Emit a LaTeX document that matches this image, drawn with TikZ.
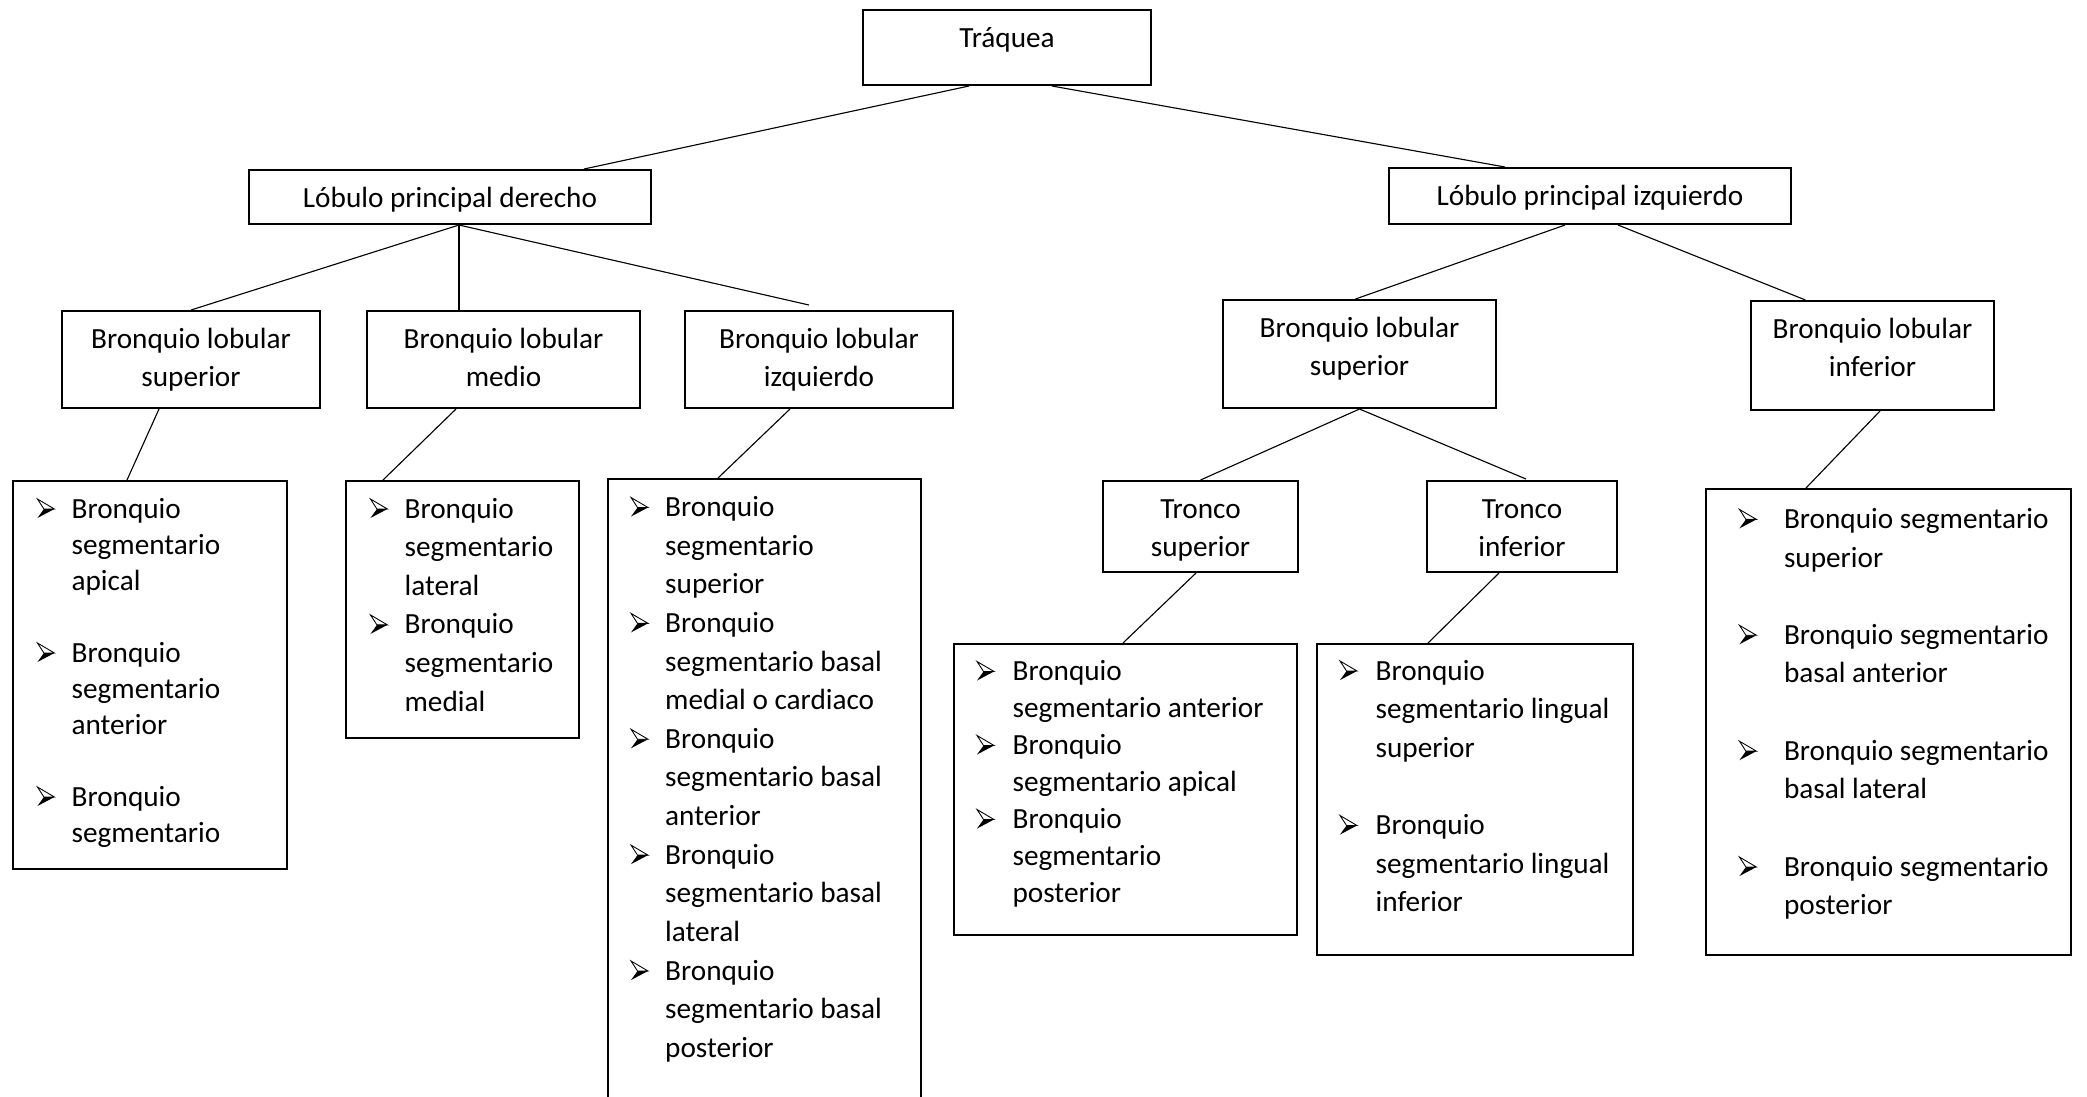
\documentclass[tikz,border=0pt]{standalone}
\usepackage{fontspec}
\setmainfont{Carlito}
\usetikzlibrary{calc,positioning}

\newlength\upx
\setlength\upx{0.4pt}
\newlength\sangria

\tikzset{
  caja/.style={
    rectangle,
    draw=black, line width=0.8pt,
    inner sep=0pt,
    anchor=north west,
    font=\fontsize{11.7}{15.45}\selectfont},
  rama/.style={draw, line width=0.45pt},
}
% punta de flecha, mitad de abajo negra
\def\flecha{\tikz[baseline=0pt, x=1pt, y=1pt, line width=0.35pt]{%
    \draw (0,7.6) -- (6.8,3.6) -- (2.6,3.6) -- cycle;
    \fill (2.6,3.6) -- (6.8,3.6) -- (0,0) -- cycle;}}
\def\hueco{\vspace{\baselineskip}}
% etiqueta: ancho, alto, texto
\newcommand{\etiq}[3]{\parbox[t][#2\upx][t]{#1\upx}{\centering\rule{0pt}{14.8pt}#3}}
% lista: ancho, alto, margen, sangria, primera linea, puntos
\newcommand{\lista}[6]{\hspace*{#3\upx}\parbox[t][#2\upx][t]{\dimexpr#1\upx-#3\upx\relax}{%
    \setlength\sangria{#4\upx}\rule{0pt}{#5\upx}#6}}
\newcommand{\punto}[1]{\hangindent=\sangria\hangafter=1\noindent\makebox[\sangria][l]{\flecha}#1\par}

\begin{document}
\begin{tikzpicture}[x=0.4pt, y=-0.4pt]
    \clip (0,0) rectangle (2087,1096);

    \node[caja] (traq) at (862,9) {\etiq{288}{75}{Tráquea}};
    \node[caja] (lobder) at (248,169) {\etiq{402}{54}{Lóbulo principal derecho}};
    \node[caja] (lobizq) at (1388,167) {\etiq{402}{56}{Lóbulo principal izquierdo}};

    %% bronquios lobulares
    \node[caja] (blsR) at (61,310) {\etiq{258}{97}{Bronquio lobular\\superior}};
    \node[caja] (blm) at (366,310) {\etiq{273}{97}{Bronquio lobular\\medio}};
    \node[caja] (bli) at (684,310) {\etiq{268}{97}{Bronquio lobular\\izquierdo}};
    \node[caja] (blsL) at (1222,299) {\etiq{273}{108}{Bronquio lobular\\superior}};
    \node[caja] (blinf) at (1750,300) {\etiq{243}{109}{Bronquio lobular\\inferior}};
    \node[caja] (trs) at (1102,480) {\etiq{195}{91}{Tronco\\superior}};
    \node[caja] (tri) at (1426,480) {\etiq{190}{91}{Tronco\\inferior}};

    %% bronquios segmentarios
    \node[caja, font=\fontsize{11.7}{14.4}\selectfont] (lista1) at (12,480) {\lista{274}{388}{24}{34.6}{37}{%
        \punto{Bronquio\\segmentario\\apical}\hueco
        \punto{Bronquio\\segmentario\\anterior}\hueco
        \punto{Bronquio\\segmentario}}};
    \node[caja] (lista2) at (345,480) {\lista{233}{257}{24}{34.6}{37}{%
        \punto{Bronquio\\segmentario\\lateral}
        \punto{Bronquio\\segmentario\\medial}}};
    \node[caja] (lista3) at (607,478) {\lista{313}{700}{22.6}{34.6}{37.5}{%
        \punto{Bronquio\\segmentario\\superior}
        \punto{Bronquio\\segmentario basal\\medial o cardiaco}
        \punto{Bronquio\\segmentario basal\\anterior}
        \punto{Bronquio\\segmentario basal\\lateral}
        \punto{Bronquio\\segmentario basal\\posterior}}};
    \node[caja, font=\fontsize{11.7}{14.8}\selectfont] (lista4) at (953,643) {\lista{343}{291}{22.6}{36}{36.5}{%
        \punto{Bronquio\\segmentario anterior}
        \punto{Bronquio\\segmentario apical}
        \punto{Bronquio\\segmentario\\posterior}}};
    \node[caja] (lista5) at (1316,643) {\lista{316}{311}{22.6}{36}{36}{%
        \punto{Bronquio\\segmentario lingual\\superior}\hueco
        \punto{Bronquio\\segmentario lingual\\inferior}}};
    \node[caja] (lista6) at (1705,488) {\lista{365}{466}{33}{45}{39.4}{%
        \punto{Bronquio segmentario\\superior}\hueco
        \punto{Bronquio segmentario\\basal anterior}\hueco
        \punto{Bronquio segmentario\\basal lateral}\hueco
        \punto{Bronquio segmentario\\posterior}}};

    %% ramas
    \draw[rama] ($(traq.south)+(-38,0)$) -- ($(lobder.north)+(134,0)$);
    \draw[rama] ($(traq.south)+(45,0)$) -- ($(lobizq.north)+(-85,0)$);
    \draw[rama] ($(lobder.south)+(9,0)$) -- (blsR.north);
    \draw[rama] ($(lobder.south)+(9,0)$) -- ($(blm.north)+(-44.5,0)$);
    \draw[rama] ($(lobder.south)+(9,0)$) -- ($(bli.north)+(-10,-5)$);
    \draw[rama] ($(lobizq.south)+(-25,0)$) -- ($(blsL.north)+(-4,0)$);
    \draw[rama] ($(lobizq.south)+(28,0)$) -- ($(blinf.north)+(-67,0)$);
    \draw[rama] (blsL.south) -- (trs.north);
    \draw[rama] (blsL.south) -- ($(tri.north)+(4,-1)$);
    \draw[rama] ($(blsR.south)+(-32,0)$) -- ($(lista1.north)+(-23,0)$);
    \draw[rama] ($(blm.south)+(-47.5,0)$) -- ($(lista2.north)+(-79.5,0)$);
    \draw[rama] ($(bli.south)+(-29,0)$) -- ($(lista3.north)+(-46.5,0)$);
    \draw[rama] ($(trs.south)+(-4.5,0)$) -- ($(lista4.north)+(-2.5,0)$);
    \draw[rama] ($(tri.south)+(-23,0)$) -- ($(lista5.north)+(-47,0)$);
    \draw[rama] ($(blinf.south)+(7.5,0)$) -- ($(lista6.north)+(-82.5,0)$);
\end{tikzpicture}
\end{document}
